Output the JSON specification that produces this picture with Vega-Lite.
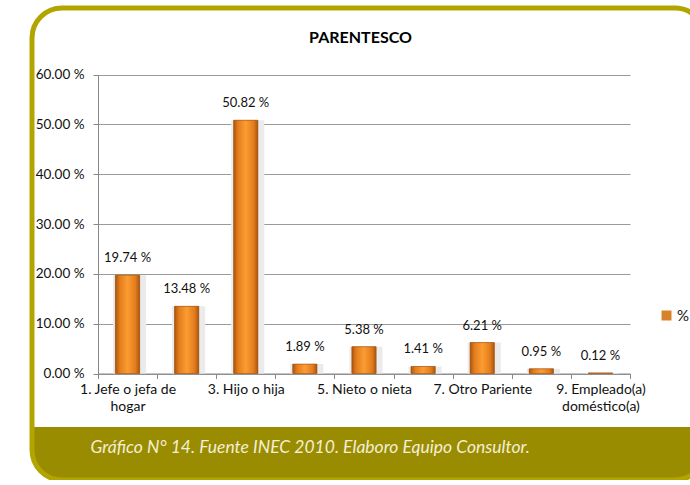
{
  "$schema": "https://vega.github.io/schema/vega-lite/v6.json",
  "autosize": "none",
  "padding": {"left": 32, "top": 8, "right": 0, "bottom": 0},
  "width": 673,
  "height": 472,
  "background": "white",
  "title": {
    "text": "PARENTESCO",
    "anchor": "middle",
    "frame": "group",
    "offset": -51,
    "baseline": "alphabetic",
    "dx": -8,
    "font": "Lato",
    "fontSize": 16,
    "fontWeight": "bold",
    "color": "#000000"
  },
  "config": {
    "font": "Lato",
    "view": {
      "stroke": "#b2a500",
      "strokeWidth": 5,
      "cornerRadius": 30,
      "fill": {
        "gradient": "linear",
        "x1": 0, "y1": 0, "x2": 0, "y2": 1,
        "stops": [
          {"offset": 0, "color": "#ffffff"},
          {"offset": 0.8875, "color": "#ffffff"},
          {"offset": 0.8876, "color": "#9a8c00"},
          {"offset": 1, "color": "#9a8c00"}
        ]
      }
    }
  },
  "data": {
    "values": [
      {"cat": "1. Jefe o jefa de hogar", "pct": 19.74, "label": "19.74 %", "serie": "%"},
      {"cat": "2. Cónyuge o conviviente", "pct": 13.48, "label": "13.48 %", "serie": "%"},
      {"cat": "3. Hijo o hija", "pct": 50.82, "label": "50.82 %", "serie": "%"},
      {"cat": "4. Yerno o nuera", "pct": 1.89, "label": "1.89 %", "serie": "%"},
      {"cat": "5. Nieto o nieta", "pct": 5.38, "label": "5.38 %", "serie": "%"},
      {"cat": "6. Padres o suegros", "pct": 1.41, "label": "1.41 %", "serie": "%"},
      {"cat": "7. Otro Pariente", "pct": 6.21, "label": "6.21 %", "serie": "%"},
      {"cat": "8. Otro no pariente", "pct": 0.95, "label": "0.95 %", "serie": "%"},
      {"cat": "9. Empleado(a) doméstico(a)", "pct": 0.12, "label": "0.12 %", "serie": "%"}
    ]
  },
  "encoding": {
    "x": {
      "field": "cat",
      "type": "nominal",
      "sort": null,
      "scale": {"range": [66, 598], "paddingInner": 0, "paddingOuter": 0},
      "axis": {
        "orient": "bottom",
        "offset": -106.5,
        "tickBand": "extent",
        "tickSize": 5,
        "tickColor": "#888888",
        "domainColor": "#888888",
        "labelAngle": 0,
        "labelFontSize": 14,
        "labelLineHeight": 17,
        "labelPadding": 4,
        "labelColor": "#111111",
        "labelOverlap": false,
        "labelBound": false,
        "labelExpr": "datum.value == '1. Jefe o jefa de hogar' ? ['1. Jefe o jefa de', 'hogar'] : datum.value == '9. Empleado(a) doméstico(a)' ? ['9. Empleado(a)', 'doméstico(a)'] : (datum.value == '3. Hijo o hija' || datum.value == '5. Nieto o nieta' || datum.value == '7. Otro Pariente') ? datum.value : ''",
        "title": "Gráfico N° 14. Fuente INEC 2010. Elaboro Equipo Consultor.",
        "titleX": 58,
        "titleY": 79,
        "titleAnchor": "start",
        "titleAlign": "left",
        "titleBaseline": "alphabetic",
        "titleFont": "Lato",
        "titleFontStyle": "italic",
        "titleFontWeight": "normal",
        "titleFontSize": 17.5,
        "titleColor": "#f3efd6"
      }
    },
    "y": {
      "field": "pct",
      "type": "quantitative",
      "scale": {"domain": [0, 60], "range": [365.5, 66.5], "nice": false},
      "axis": {
        "orient": "left",
        "offset": -66,
        "values": [0, 10, 20, 30, 40, 50, 60],
        "labelExpr": "format(datum.value, '.2f') + ' %'",
        "tickSize": 5,
        "tickColor": "#888888",
        "domainColor": "#888888",
        "grid": true,
        "gridColor": "#9a9a9a",
        "labelFontSize": 13.5,
        "labelColor": "#111111",
        "labelPadding": 9,
        "title": null
      }
    }
  },
  "layer": [
    {
      "mark": {"type": "bar", "width": {"band": 0.56}, "xOffset": 2, "color": "#ebebeb"}
    },
    {
      "mark": {"type": "bar", "width": {"band": 0.41}},
      "encoding": {
        "color": {
          "field": "serie",
          "type": "nominal",
          "scale": {"range": ["#d9822c"]},
          "legend": {
            "title": null,
            "orient": "none",
            "legendX": 627,
            "legendY": 300,
            "symbolType": "square",
            "symbolSize": 100,
            "symbolStrokeWidth": 0,
            "labelOffset": 3,
            "labelFontSize": 15,
            "labelColor": "#111111"
          }
        }
      }
    },
    {
      "mark": {
        "type": "bar",
        "width": {"band": 0.41},
        "stroke": "#9a4f10",
        "strokeWidth": 0.6,
        "fill": {
          "gradient": "linear",
          "x1": 0, "y1": 0, "x2": 1, "y2": 0,
          "stops": [
            {"offset": 0, "color": "#a9560f"},
            {"offset": 0.18, "color": "#e47d1d"},
            {"offset": 0.5, "color": "#fb9c32"},
            {"offset": 0.82, "color": "#e47d1d"},
            {"offset": 1, "color": "#a9560f"}
          ]
        }
      }
    },
    {
      "mark": {"type": "text", "baseline": "bottom", "dy": -10, "fontSize": 13, "color": "#111111"},
      "encoding": {"text": {"field": "label"}}
    }
  ]
}
